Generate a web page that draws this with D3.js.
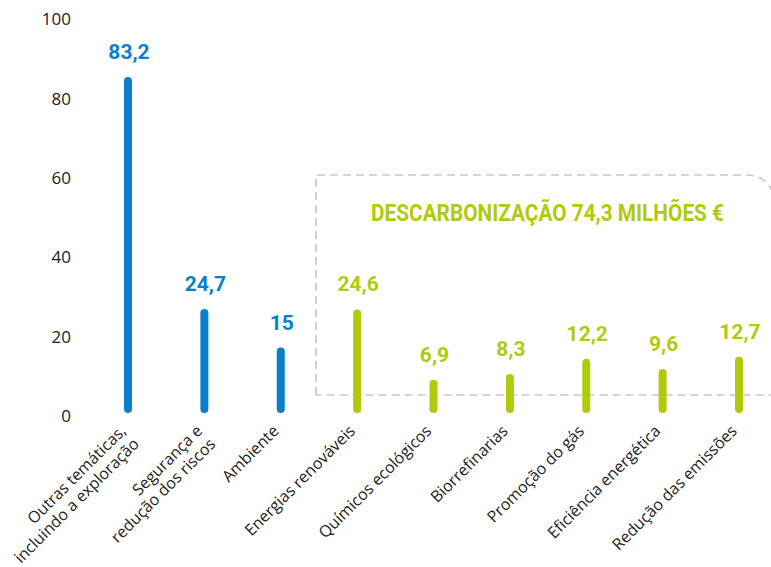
<!DOCTYPE html>
<html>
<head>
<meta charset="utf-8">
<script src="https://cdn.jsdelivr.net/npm/d3@7"></script>
<style>
  body { margin: 0; background: #fff; }
  svg { display: block; }
  .tick-label { font-family: "Open Sans", sans-serif; font-size: 17px; fill: #222; }
  .cat-label { font-family: "Open Sans", sans-serif; font-size: 16px; fill: #222; }
  .val-label { font-family: Roboto, sans-serif; font-weight: 700; font-size: 21px; }
</style>
</head>
<body>
<svg width="771" height="567"></svg>
<script>
// data
var categories = [
  ["Outras temáticas,", "incluindo a exploração"],
  ["Segurança e", "redução dos riscos"],
  ["Ambiente"],
  ["Energias renováveis"],
  ["Químicos ecológicos"],
  ["Biorrefinarias"],
  ["Promoção do gás"],
  ["Eficiência energética"],
  ["Redução das emissões"]
];
var values = [83.2, 24.7, 15, 24.6, 6.9, 8.3, 12.2, 9.6, 12.7];
var valueLabels = ["83,2", "24,7", "15", "24,6", "6,9", "8,3", "12,2", "9,6", "12,7"];
var groups = ["other", "other", "other", "decarb", "decarb", "decarb", "decarb", "decarb", "decarb"];
var yTicks = [0, 20, 40, 60, 80, 100];
var boxTitle = "DESCARBONIZAÇÃO 74,3 MILHÕES €";

var blue = "#0a7fcb",
    green = "#b0ca0c";

var svg = d3.select("svg");

var x = d3.scalePoint()
    .domain(d3.range(values.length))
    .range([128, 739]);

var y = d3.scaleLinear()
    .domain([0, 100])
    .range([408, 11.5]);

// dashed box round the decarbonisation group
var boxLeft = 316, boxTop = 175, boxBottom = 395, boxRight = 774, r = 26;
svg.append("path")
    .attr("d", "M" + boxLeft + "," + boxBottom +
               "V" + boxTop +
               "H" + (boxRight - r) +
               "A" + r + "," + r + " 0 0 1 " + boxRight + "," + (boxTop + r) +
               "V" + boxBottom + "Z")
    .attr("fill", "none")
    .attr("stroke", "#c6c6c6")
    .attr("stroke-width", 1.6)
    .attr("stroke-dasharray", "8,5");

svg.append("text")
    .attr("x", 547.5)
    .attr("y", 221)
    .attr("text-anchor", "middle")
    .attr("textLength", 353)
    .attr("lengthAdjust", "spacingAndGlyphs")
    .style("font-family", "Roboto, sans-serif")
    .style("font-weight", 700)
    .style("font-size", "23px")
    .style("fill", green)
    .text(boxTitle);

// y tick labels (no axis line)
svg.append("g").selectAll("text")
    .data(yTicks)
  .enter().append("text")
    .attr("class", "tick-label")
    .attr("x", 71)
    .attr("y", function(d) { return y(d) + 8; })
    .attr("dy", "0.35em")
    .attr("text-anchor", "end")
    .text(function(d) { return d; });

// bars as rounded sticks
svg.append("g").selectAll("rect")
    .data(values)
  .enter().append("rect")
    .attr("x", function(d, i) { return x(i) - 4; })
    .attr("y", function(d) { return y(d) - 1; })
    .attr("width", 8)
    .attr("height", function(d) { return y(0) + 5 - (y(d) - 1); })
    .attr("rx", 4)
    .attr("fill", function(d, i) { return groups[i] == "other" ? blue : green; });

svg.append("g").selectAll("text")
    .data(values)
  .enter().append("text")
    .attr("class", "val-label")
    .attr("x", function(d, i) { return x(i) + 1; })
    .attr("y", function(d) { return y(d) - 19; })
    .attr("text-anchor", "middle")
    .style("fill", function(d, i) { return groups[i] == "other" ? blue : green; })
    .text(function(d, i) { return valueLabels[i]; });

// rotated category labels
var cat = svg.append("g").selectAll("text")
    .data(categories)
  .enter().append("text")
    .attr("class", "cat-label")
    .attr("text-anchor", "end")
    .attr("transform", function(d, i) { return "translate(" + (x(i) - 1) + ",432) rotate(-45)"; });

cat.selectAll("tspan")
    .data(function(d) { return d; })
  .enter().append("tspan")
    .attr("x", 0)
    .attr("dy", function(d, i) { return i ? "1.15em" : 0; })
    .text(function(d) { return d; });
</script>
</body>
</html>
